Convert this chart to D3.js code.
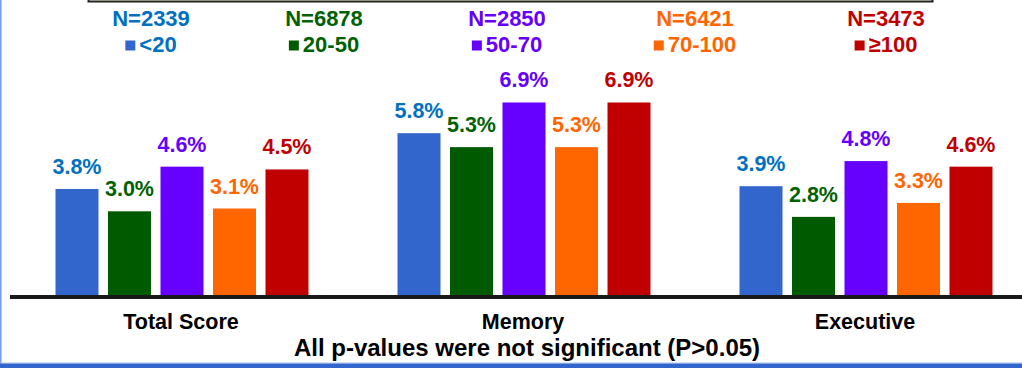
<!DOCTYPE html>
<html>
<head>
  <script src="https://d3js.org/d3.v7.js"></script>
  <style>
    html, body {
      margin: 0px;
      padding: 0px;
      background: #fff;
      font-family: "Liberation Sans", Arial, Helvetica, sans-serif;
    }
    #chart {
      width: 1022px;
      height: 368px;
      position: relative;
    }
    text { font-weight: bold; }
  </style>
</head>
<body>
  <div id="chart"></div>
  <script>

    // data
    const categories = ["Total Score", "Memory", "Executive"];
    const groups = ["<20", "20-50", "50-70", "70-100", "\u2265100"];
    const groupN = ["N=2339", "N=6878", "N=2850", "N=6421", "N=3473"];
    const totalScore = [3.8, 3.0, 4.6, 3.1, 4.5];
    const memory = [5.8, 5.3, 6.9, 5.3, 6.9];
    const executive = [3.9, 2.8, 4.8, 3.3, 4.6];
    const footnote = "All p-values were not significant (P>0.05)";

    const barColors = ["#3366CC", "#005A00", "#6600FF", "#FF6600", "#C00000"];
    const textColors = ["#0070C0", "#006100", "#6600FF", "#FF6600", "#C00000"];

    const width = 1022, height = 368;
    const baseY = 295;

    const svg = d3.select("#chart")
      .append("svg")
      .attr("width", width)
      .attr("height", height);

    // frame bits: left edge, bottom band, top box edge
    svg.append("rect").attr("x", 0).attr("y", 0).attr("width", 1.5).attr("height", height)
      .attr("fill", "#6F9BE8");
    svg.append("rect").attr("x", 0).attr("y", 362.5).attr("width", width).attr("height", 1)
      .attr("fill", "#A9C2EE");
    svg.append("rect").attr("x", 0).attr("y", 363.5).attr("width", width).attr("height", 5)
      .attr("fill", "#3366CC");
    svg.append("rect").attr("x", 88.5).attr("y", -10).attr("width", 844).attr("height", 11.5)
      .attr("fill", "#FFFFE8").attr("stroke", "#222").attr("stroke-width", 2);

    // scales
    const xScale = d3.scaleBand()
      .domain(categories)
      .range([11, 1037])
      .padding(0);

    const inner = d3.scaleBand()
      .domain(groups)
      .range([-131.25, 131.25])
      .paddingInner(0.181)
      .paddingOuter(0.0905);

    const yScale = d3.scaleLinear()
      .domain([0, 7])
      .range([baseY, baseY - 7 * 27.9]);

    const table = [];
    [totalScore, memory, executive].forEach(function(vals, ci) {
      vals.forEach(function(v, gi) {
        table.push({cat: categories[ci], grp: groups[gi], gi: gi, value: v});
      });
    });

    // bars
    svg.selectAll("rect.bar")
      .data(table)
      .enter()
      .append("rect")
        .attr("class", "bar")
        .attr("x", d => xScale(d.cat) + xScale.bandwidth() / 2 + inner(d.grp))
        .attr("y", d => yScale(d.value))
        .attr("width", inner.bandwidth())
        .attr("height", d => baseY - yScale(d.value))
        .attr("fill", d => barColors[d.gi]);

    // value labels
    svg.selectAll("text.val")
      .data(table)
      .enter()
      .append("text")
        .attr("class", "val")
        .attr("x", d => xScale(d.cat) + xScale.bandwidth() / 2 + inner(d.grp) + inner.bandwidth() / 2)
        .attr("y", d => yScale(d.value) - 15)
        .attr("text-anchor", "middle")
        .attr("font-size", "21.5px")
        .attr("fill", d => textColors[d.gi])
        .text(d => d.value.toFixed(1) + "%");

    // baseline
    svg.append("line")
      .attr("x1", 10).attr("x2", width)
      .attr("y1", baseY + 2).attr("y2", baseY + 2)
      .attr("stroke", "#1a1a1a")
      .attr("stroke-width", 4);

    // category labels
    svg.selectAll("text.cat")
      .data(categories)
      .enter()
      .append("text")
        .attr("class", "cat")
        .attr("x", d => xScale(d) + xScale.bandwidth() / 2 - 1)
        .attr("y", 329)
        .attr("text-anchor", "middle")
        .attr("font-size", "21.5px")
        .attr("fill", "#000")
        .text(d => d);

    svg.append("text")
      .attr("x", 527)
      .attr("y", 356)
      .attr("text-anchor", "middle")
      .attr("font-size", "24px")
      .attr("fill", "#000")
      .text(footnote);

    // legend
    const legendX = [151, 324, 507, 695, 886];

    groups.forEach(function(g, i) {
      svg.append("text")
        .attr("x", legendX[i])
        .attr("y", 25.5)
        .attr("text-anchor", "middle")
        .attr("font-size", "22px")
        .attr("fill", textColors[i])
        .text(groupN[i]);

      const item = svg.append("g");
      item.append("rect")
        .attr("x", 0).attr("y", 40.5)
        .attr("width", 10).attr("height", 10)
        .attr("fill", barColors[i]);
      const t = item.append("text")
        .attr("x", 14)
        .attr("y", 52)
        .attr("font-size", "22px")
        .attr("fill", textColors[i])
        .text(g);
      const w = 14 + t.node().getComputedTextLength();
      item.attr("transform", `translate(${legendX[i] - w / 2},0)`);
    });

  </script>
</body>
</html>
